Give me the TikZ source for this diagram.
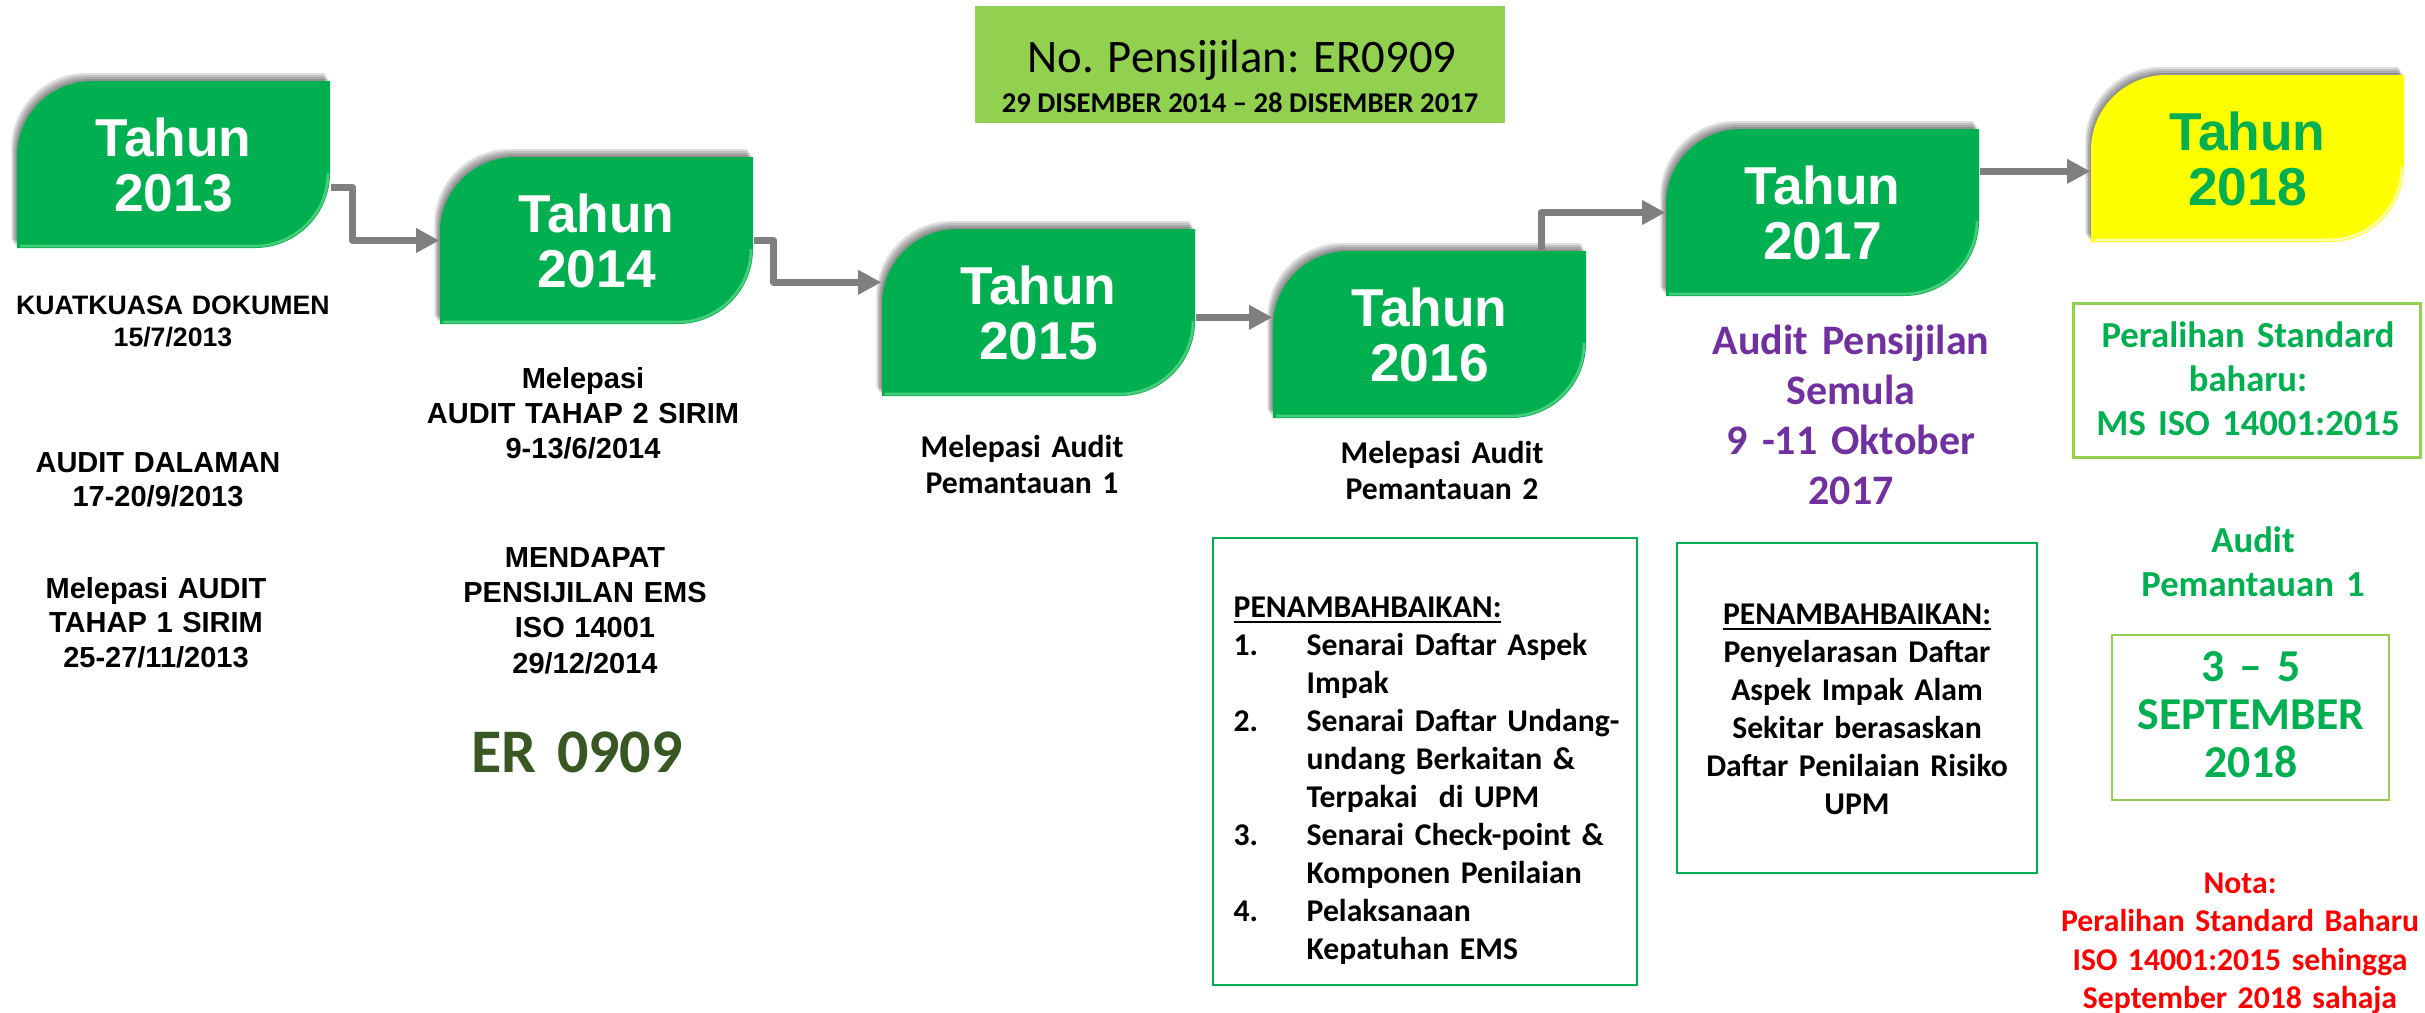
\documentclass[tikz,border=0pt]{standalone}
\usepackage{fontspec}
\setmainfont{Carlito}
\newfontfamily\arial{Liberation Sans}
\usetikzlibrary{calc,arrows.meta}
\definecolor{gbox}{RGB}{0,176,80}
\definecolor{lgreen}{RGB}{146,208,80}
\definecolor{purp}{RGB}{112,48,160}
\definecolor{erg}{RGB}{56,87,35}
\definecolor{arr}{RGB}{127,127,127}
\definecolor{ybox}{RGB}{255,255,0}
\definecolor{hlg}{RGB}{70,205,120}
\definecolor{hly}{RGB}{255,255,170}
\begin{document}
\begin{tikzpicture}[x=0.3pt,y=-0.3pt,
  conn/.style={draw=arr, line width=2.1pt, line join=round, -{Triangle[length=7pt,width=7pt]}},
  yr/.style={inner sep=0pt, minimum width=93.9pt, minimum height=50.1pt, align=center,
    font=\arial\bfseries\fontsize{16}{16.5}\selectfont, text=white},
  albl/.style={inner sep=0pt, anchor=base, align=center, text width=140pt},
  cbl/.style={inner sep=0pt, anchor=base, align=center, text width=140pt,
    font=\bfseries\fontsize{9.5}{10.8}\selectfont},
  lbox/.style={draw=gbox, line width=0.6pt, inner sep=0pt},
  gbx/.style={draw=lgreen, line width=0.9pt, inner sep=0pt},
]
\useasboundingbox (0,0) rectangle (2425,1012);

% ---- year shapes with shadow ----
\foreach \bx/\by/\fc/\hc in {17/81/gbox/hlg,440/157/gbox/hlg,882/229/gbox/hlg,1273/251/gbox/hlg,1666/129/gbox/hlg,2091/75/ybox/hly}{
  \foreach \d in {2,4,6,8}{
    \fill[black, opacity=0.13, shift={(-0.7*\d,-\d)}]
      (\bx,\by+167) -- (\bx,\by+75) .. controls (\bx,\by+33.6) and (\bx+33.6,\by) .. (\bx+75,\by)
      -- (\bx+313,\by) -- (\bx+313,\by+92) .. controls (\bx+313,\by+133.4) and (\bx+279.4,\by+167) .. (\bx+238,\by+167) -- cycle;
  }
  \fill[\fc]
    (\bx,\by+167) -- (\bx,\by+75) .. controls (\bx,\by+33.6) and (\bx+33.6,\by) .. (\bx+75,\by)
    -- (\bx+313,\by) -- (\bx+313,\by+92) .. controls (\bx+313,\by+133.4) and (\bx+279.4,\by+167) .. (\bx+238,\by+167) -- cycle;
  \draw[\hc, line width=0.8pt]
    (\bx+3,\by+165) -- (\bx+238,\by+165) .. controls (\bx+278,\by+165) and (\bx+311,\by+132) .. (\bx+311,\by+92);
}

% ---- year nodes ----
\node[yr] (b13) at (173.5,164.5) {Tahun\\2013};
\node[yr] (b14) at (596.5,240.5) {Tahun\\2014};
\node[yr] (b15) at (1038.5,312.5) {Tahun\\2015};
\node[yr] (b16) at (1429.5,334.5) {Tahun\\2016};
\node[yr] (b17) at (1822.5,212.5) {Tahun\\2017};
\node[yr, text=gbox] (b18) at (2247.5,158.5) {Tahun\\2018};

% ---- connectors ----
\coordinate (c1) at ($(b13.north east)+(0,107)$);
\coordinate (c2) at (b14.east);
\coordinate (c3) at ($(b15.north east)+(0,89)$);
\coordinate (c4) at ($(b16.north west)+(269,0)$);
\coordinate (c5) at ($(b17.north east)+(0,43)$);
\draw[conn] (c1) -- ++(22,0) |- (b14.west);
\draw[conn] (c2) -- ++(20,0) |- ($(b15.north west)+(0,54)$);
\draw[conn] (c3) -- (c3 -| b16.west);
\draw[conn] (c4) |- (b17.west);
\draw[conn] (c5) -- (c5 -| b18.west);

% ---- header ----
\node[fill=lgreen, inner sep=0pt, minimum width=159pt, minimum height=35.1pt] (hdr) at (1240,64.5) {};
\node[inner sep=0pt, anchor=base, font=\fontsize{14}{16}\selectfont] (hdr1) at (1242,72) {No. Pensijilan: ER0909};
\node[inner sep=0pt, anchor=base, font=\bfseries\fontsize{8.6}{10}\selectfont] (hdr2) at (1240,112) {29 DISEMBER 2014 -- 28 DISEMBER 2017};

% ---- 2013 column ----
\node[albl, font=\arial\bfseries\fontsize{8}{9.6}\selectfont] (t13a) at (173,314) {KUATKUASA DOKUMEN\\15/7/2013};
\node[albl, font=\arial\bfseries\fontsize{8.7}{10.2}\selectfont] (t13b) at (158,472) {AUDIT DALAMAN\\17-20/9/2013};
\node[albl, font=\arial\bfseries\fontsize{8.7}{10.35}\selectfont] (t13c) at (156,598) {Melepasi AUDIT\\TAHAP 1 SIRIM\\25-27/11/2013};

% ---- 2014 column ----
\node[albl, font=\arial\bfseries\fontsize{8.7}{10.5}\selectfont] (t14a) at (583,388) {Melepasi\\AUDIT TAHAP 2 SIRIM\\9-13/6/2014};
\node[albl, font=\arial\bfseries\fontsize{8.7}{10.6}\selectfont] (t14b) at (585,567) {MENDAPAT\\PENSIJILAN EMS\\ISO 14001\\29/12/2014};
\node[albl, font=\bfseries\fontsize{18.6}{20}\selectfont, text=erg] (t14c) at (577,772) {ER 0909};

% ---- 2015 / 2016 ----
\node[cbl] (t15) at (1022,457) {Melepasi Audit\\Pemantauan 1};
\node[cbl] (t16) at (1442,463) {Melepasi Audit\\Pemantauan 2};

\node[lbox, minimum width=127.2pt, minimum height=134.1pt] (p16) at (1425,761.5) {};
\node[inner sep=0pt, anchor=base west, align=left, text width=130pt,
  font=\bfseries\fontsize{9.5}{11.43}\selectfont] (p16t) at (1233,617)
  {\underline{PENAMBAHBAIKAN:}\\
   \makebox[21.9pt][l]{1.}Senarai Daftar Aspek\\
   \hspace*{21.9pt}Impak\\
   \makebox[21.9pt][l]{2.}Senarai Daftar Undang-\\
   \hspace*{21.9pt}undang Berkaitan \&\\
   \hspace*{21.9pt}Terpakai\ \ di UPM\\
   \makebox[21.9pt][l]{3.}Senarai Check-point \&\\
   \hspace*{21.9pt}Komponen Penilaian\\
   \makebox[21.9pt][l]{4.}Pelaksanaan\\
   \hspace*{21.9pt}Kepatuhan EMS};

% ---- 2017 ----
\node[cbl, font=\bfseries\fontsize{12.6}{15}\selectfont, text=purp] (t17) at (1851,354)
  {Audit Pensijilan\\Semula\\9 -11 Oktober\\2017};
\node[lbox, minimum width=108pt, minimum height=99pt] (p17) at (1857,708) {};
\node[cbl, font=\bfseries\fontsize{9.5}{11.4}\selectfont] (p17t) at (1857,624)
  {\underline{PENAMBAHBAIKAN:}\\Penyelarasan Daftar\\Aspek Impak Alam\\Sekitar berasaskan\\Daftar Penilaian Risiko\\UPM};

% ---- 2018 ----
\node[gbx, minimum width=104.1pt, minimum height=46.2pt] (pb) at (2247,380.5) {};
\node[cbl, font=\bfseries\fontsize{11}{13.2}\selectfont, text=gbox] (pbt) at (2248,347)
  {Peralihan Standard\\baharu:\\MS ISO 14001:2015};
\node[cbl, font=\bfseries\fontsize{11}{13.2}\selectfont, text=gbox] (t18a) at (2253,552)
  {Audit\\Pemantauan 1};
\node[gbx, line width=0.6pt, minimum width=83.1pt, minimum height=49.5pt] (sb) at (2250.5,717.5) {};
\node[cbl, font=\bfseries\fontsize{13.7}{14.4}\selectfont, text=gbox] (sbt) at (2251,681)
  {3 -- 5\\SEPTEMBER\\2018};
\node[cbl, font=\bfseries\fontsize{9.5}{11.55}\selectfont, text=red] (nota) at (2240,893)
  {Nota:\\Peralihan Standard Baharu\\ISO 14001:2015 sehingga\\September 2018 sahaja};
\end{tikzpicture}
\end{document}
